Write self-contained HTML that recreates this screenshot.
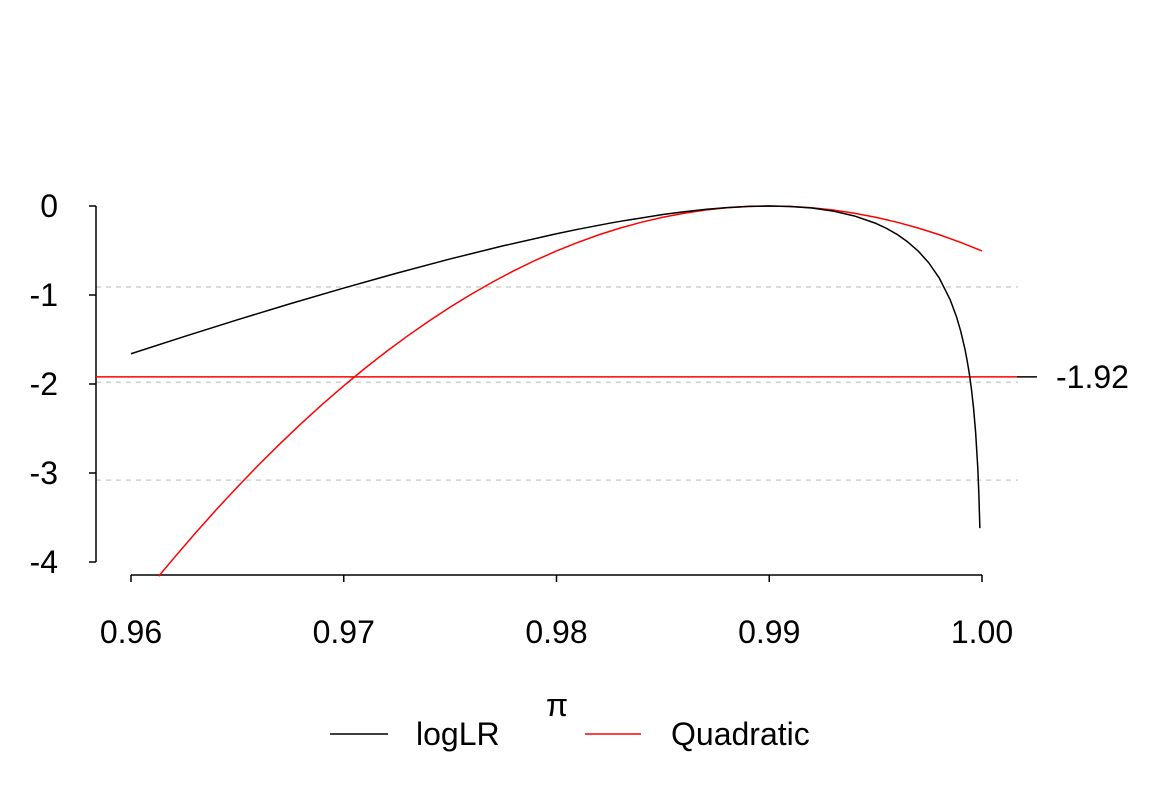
<!DOCTYPE html>
<html><head><meta charset="utf-8"><style>
body{margin:0;background:#fff}
svg text{font-family:"Liberation Sans",Arial,sans-serif;font-size:32px;fill:#000}
</style></head><body>
<svg id="c" width="1152" height="806" xmlns="http://www.w3.org/2000/svg">
<g id="grid"></g>
<g id="axes"></g>
<g id="series"></g>
<g>
<line x1="330" y1="734" x2="388" y2="734" stroke="#000" stroke-width="1.5"/>
<text x="416" y="745">logLR</text>
<text x="557" y="716" text-anchor="middle">π</text>
<line x1="585" y1="734" x2="641" y2="734" stroke="#f00" stroke-width="1.5"/>
<text x="671" y="745">Quadratic</text>
</g>
</svg>
<script>
const xTicks=[0.96,0.97,0.98,0.99,1.00];
const xTickLabels=["0.96","0.97","0.98","0.99","1.00"];
const yTicks=[0,-1,-2,-3,-4];
const yTickLabels=["0","-1","-2","-3","-4"];
const gridValues=[-0.91,-1.98,-3.08];
const cutoffValue=-1.92;
const cutoffLabel="-1.92";
const logLRx=[0.96,0.9625,0.965,0.9675,0.97,0.9725,0.975,0.9775,0.98,0.981,0.9825,0.983,0.985,0.986,0.987,0.988,0.989,0.99,0.991,0.992,0.993,0.994,0.995,0.9955,0.996,0.9965,0.997,0.9975,0.998,0.9985,0.9988,0.999,0.9992,0.9993,0.9994,0.9995,0.9996,0.9997,0.9998,0.99985,0.9999];
const logLRy=[-1.660,-1.467,-1.279,-1.097,-0.922,-0.754,-0.595,-0.447,-0.312,-0.262,-0.193,-0.172,-0.096,-0.064,-0.038,-0.018,-0.0047,0,-0.0054,-0.023,-0.057,-0.112,-0.194,-0.250,-0.318,-0.402,-0.506,-0.639,-0.813,-1.051,-1.244,-1.407,-1.610,-1.734,-1.878,-2.050,-2.264,-2.541,-2.937,-3.220,-3.620];
const quadX=[0.9613,0.962,0.963,0.964,0.965,0.966,0.967,0.968,0.969,0.970,0.971,0.972,0.973,0.974,0.975,0.976,0.977,0.978,0.979,0.980,0.981,0.982,0.983,0.984,0.985,0.986,0.987,0.988,0.989,0.990,0.991,0.992,0.993,0.994,0.995,0.996,0.997,0.998,0.999,1.000];
const quadY=[-4.160,-3.960,-3.682,-3.414,-3.157,-2.909,-2.672,-2.444,-2.227,-2.020,-1.823,-1.636,-1.460,-1.293,-1.136,-0.990,-0.854,-0.727,-0.611,-0.505,-0.409,-0.323,-0.247,-0.182,-0.126,-0.081,-0.045,-0.020,-0.005,0,-0.005,-0.020,-0.045,-0.081,-0.126,-0.182,-0.247,-0.323,-0.409,-0.505];
const NS="http://www.w3.org/2000/svg";
const sx=v=>131+(v-0.96)/0.04*851;
const sy=v=>206-v*89;
function mk(tag,attrs,parent){const e=document.createElementNS(NS,tag);for(const k in attrs)e.setAttribute(k,attrs[k]);parent.appendChild(e);return e;}
const grid=document.getElementById('grid'),axes=document.getElementById('axes'),series=document.getElementById('series');
gridValues.forEach(g=>{const l=mk('line',{x1:96,x2:1018,y1:sy(g),y2:sy(g),stroke:'#d0d0d0','stroke-width':1.5,'stroke-dasharray':'5,5'},grid);

});
let ya=mk('line',{x1:96,x2:96,y1:sy(0),y2:sy(-4),stroke:'#000','stroke-width':1.5},axes);


yTicks.forEach((t,i)=>{mk('line',{x1:89,x2:96,y1:sy(t),y2:sy(t),stroke:'#000','stroke-width':1.5},axes);
const tx=mk('text',{x:58,y:sy(t)+11,'text-anchor':'end'},axes);tx.textContent=yTickLabels[i];

});
let xa=mk('line',{x1:sx(0.96),x2:sx(1.0),y1:575,y2:575,stroke:'#000','stroke-width':1.5},axes);


xTicks.forEach((t,i)=>{mk('line',{x1:sx(t),x2:sx(t),y1:575,y2:582,stroke:'#000','stroke-width':1.5},axes);
const tx=mk('text',{x:sx(t),y:643,'text-anchor':'middle'},axes);tx.textContent=xTickLabels[i];

});
let cl=mk('line',{x1:96,x2:1017,y1:sy(cutoffValue),y2:sy(cutoffValue),stroke:'#f00','stroke-width':1.5},series);


let ct=mk('line',{x1:1017,x2:1037,y1:sy(cutoffValue),y2:sy(cutoffValue),stroke:'#000','stroke-width':1.5},series);


let clb=mk('text',{x:1056,y:sy(cutoffValue)+11},series);clb.textContent=cutoffLabel;


const pts=(xs,ys)=>xs.map((x,i)=>sx(x).toFixed(2)+','+sy(ys[i]).toFixed(2)).join(' ');
let q=mk('polyline',{points:pts(quadX,quadY),fill:'none',stroke:'#f00','stroke-width':1.5,'stroke-linejoin':'round'},series);


let lr=mk('polyline',{points:pts(logLRx,logLRy),fill:'none',stroke:'#000','stroke-width':1.5,'stroke-linejoin':'round'},series);


</script>
</body></html>
